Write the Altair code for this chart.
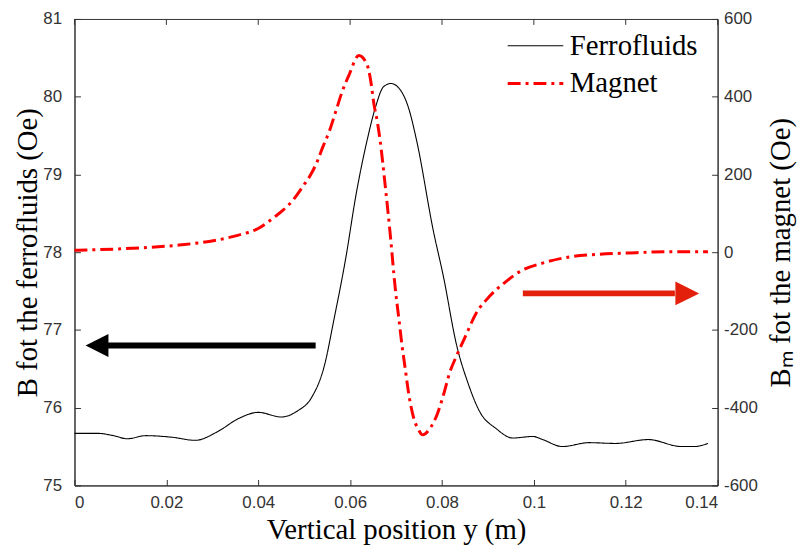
import altair as alt
import pandas as pd

# ---- data ----
ferro_x = [0, 0.005, 0.0085, 0.0115, 0.0155, 0.0212, 0.0263, 0.0311, 0.0357, 0.0400,
           0.045, 0.0486, 0.0515, 0.0544, 0.0565, 0.0591, 0.0612, 0.0637, 0.0655, 0.0673,
           0.0689, 0.0709, 0.0727, 0.0745, 0.0781, 0.0803, 0.0832, 0.0857, 0.0882, 0.0918,
           0.0954, 0.0998, 0.1019, 0.1062, 0.112, 0.1178, 0.1249, 0.1321, 0.135, 0.1379]
ferro_B = [75.67, 75.67, 75.64, 75.60, 75.64, 75.62, 75.58, 75.69, 75.86, 75.94,
           75.88, 75.96, 76.12, 76.54, 77.14, 77.94, 78.71, 79.44, 79.86, 80.13,
           80.17, 80.09, 79.86, 79.43, 78.28, 77.69, 76.80, 76.31, 75.95, 75.73,
           75.61, 75.63, 75.59, 75.50, 75.55, 75.54, 75.59, 75.50, 75.50, 75.54]

mag_x = [0, 0.0125, 0.0233, 0.0305, 0.0357, 0.04, 0.0436, 0.0454, 0.0475, 0.0501,
         0.0515, 0.0529, 0.054, 0.0555, 0.0569, 0.0583, 0.0598, 0.0619, 0.0637, 0.0645,
         0.0652, 0.0659, 0.0665, 0.0677, 0.0688, 0.0698, 0.0706, 0.0713, 0.072, 0.0727,
         0.0738, 0.0749, 0.0758, 0.0774, 0.0789, 0.0803, 0.0817, 0.0832, 0.085, 0.0875,
         0.0904, 0.094, 0.0969, 0.1019, 0.1084, 0.1134, 0.1207, 0.1293, 0.1379]
mag_B = [5, 10, 19, 30, 44, 61, 91, 108, 133, 176,
         201, 235, 269, 312, 363, 414, 457, 506, 482, 440,
         380, 337, 290, 165, 38, -90, -170, -240, -300, -360,
         -425, -457, -470, -453, -419, -368, -309, -266, -219, -156,
         -113, -75, -50, -28, -11, -6, -2, 1, 1]

series_names = ["Ferrofluids", "Magnet"]
series_colors = ["#000000", "#ff0000"]

x_ticks = [0, 0.02, 0.04, 0.06, 0.08, 0.1, 0.12, 0.14]
left_ticks = [75, 76, 77, 78, 79, 80, 81]
right_ticks = [-600, -400, -200, 0, 200, 400, 600]

# arrows (in x / left-axis units)
black_arrow_shaft = [0.0525, 0.0073]
black_arrow_head = 0.0049
black_arrow_level = 76.80
red_arrow_shaft = [0.0976, 0.1307]
red_arrow_head = 0.1334
red_arrow_level = 77.47

# ---- frames ----
ferro = pd.DataFrame({"pos": ferro_x, "B": ferro_B, "series": "Ferrofluids"})
magnet = pd.DataFrame({"pos": mag_x, "B": mag_B, "series": "Magnet"})
shaft_black_df = pd.DataFrame({"x0": [black_arrow_shaft[0]], "x1": [black_arrow_shaft[1]],
                               "y": [black_arrow_level]})
shaft_red_df = pd.DataFrame({"x0": [red_arrow_shaft[0]], "x1": [red_arrow_shaft[1]],
                             "y": [red_arrow_level]})
heads_left = pd.DataFrame({"x": [black_arrow_head], "y": [black_arrow_level]})
heads_right = pd.DataFrame({"x": [red_arrow_head], "y": [red_arrow_level]})
top_ticks_df = pd.DataFrame({"pos": x_ticks})

TICK_FONT = "Liberation Sans"
SERIF = "Liberation Serif"
tick_in = {"expr": "-6"}

xs = alt.Scale(domain=[0, 0.14], nice=False, zero=False)
ys_left = alt.Scale(domain=[75, 81], nice=False, zero=False)
ys_right = alt.Scale(domain=[-600, 600], nice=False, zero=False)

color_scale = alt.Scale(domain=series_names, range=series_colors)
dash_scale = alt.Scale(domain=series_names, range=[[1, 0], [13, 5, 3, 5]])
width_scale = alt.Scale(type="ordinal", domain=series_names, range=[1.1, 3])

legend = alt.Legend(
    title=None, orient="none", legendX=435, legendY=13, padding=0,
    symbolType="stroke", symbolSize=3136, clipHeight=28,
    labelFont=SERIF, labelFontSize=29,
    labelColor="black", labelOffset=5, rowPadding=9, labelLimit=300,
)

x_axis = alt.Axis(
    title="Vertical position y (m)", values=x_ticks, format="~g",
    labelFont=TICK_FONT, labelFontSize=17, labelColor="#333333", labelPadding=15,
    tickSize=tick_in, tickColor="#333333", domainColor="#333333", grid=False,
    titleFont=SERIF, titleFontSize=29, titleFontWeight="normal", titleColor="black",
    titleY=53, titleBaseline="alphabetic",
)
left_axis = alt.Axis(
    title="B fot the ferrofluids (Oe)", values=left_ticks, labelExpr="'' + datum.value",
    labelFont=TICK_FONT, labelFontSize=17, labelColor="#333333", labelPadding=19,
    tickSize=tick_in, tickColor="#333333", domainColor="#333333", grid=False,
    titleFont=SERIF, titleFontSize=29, titleFontWeight="normal", titleColor="black",
    titleX=-38, titleBaseline="alphabetic",
)
right_axis = alt.Axis(
    orient="right", title="B\u2098 fot the magnet (Oe)", values=right_ticks,
    labelExpr="'' + datum.value",
    labelFont=TICK_FONT, labelFontSize=17, labelColor="#333333", labelPadding=12,
    tickSize=tick_in, tickColor="#333333", domainColor="#333333", grid=False,
    titleFont=SERIF, titleFontSize=29, titleFontWeight="normal", titleColor="black",
    titleX=72, titleAngle=270, titleBaseline="alphabetic",
)

X = alt.X("pos:Q", scale=xs, axis=x_axis)

ferro_line = alt.Chart(ferro).mark_line(interpolate="monotone").encode(
    x=X,
    y=alt.Y("B:Q", scale=ys_left, axis=left_axis),
    color=alt.Color("series:N", scale=color_scale, legend=legend),
    strokeDash=alt.StrokeDash("series:N", scale=dash_scale, legend=legend),
    strokeWidth=alt.StrokeWidth("series:N", scale=width_scale, legend=legend),
)

top_ticks = alt.Chart(top_ticks_df).mark_rule(color="#333333", strokeWidth=1).encode(
    x=X, y=alt.value(0), y2=alt.value(6),
)

shaft_black = alt.Chart(shaft_black_df).mark_rule(color="#000000", strokeWidth=6).encode(
    x=alt.X("x0:Q", scale=xs, axis=x_axis),
    x2="x1:Q",
    y=alt.Y("y:Q", scale=ys_left, axis=left_axis),
)
shaft_red = alt.Chart(shaft_red_df).mark_rule(color="#e2200c", strokeWidth=6).encode(
    x=alt.X("x0:Q", scale=xs, axis=x_axis),
    x2="x1:Q",
    y=alt.Y("y:Q", scale=ys_left, axis=left_axis),
)
head_black = alt.Chart(heads_left).mark_point(
    shape="M-1,0L1,-1L1,1Z", filled=True, color="#000000", opacity=1, size=529,
    strokeWidth=0).encode(
    x=alt.X("x:Q", scale=xs, axis=x_axis),
    y=alt.Y("y:Q", scale=ys_left, axis=left_axis),
)
head_red = alt.Chart(heads_right).mark_point(
    shape="M1,0L-1,-1L-1,1Z", filled=True, color="#e2200c", opacity=1, size=576,
    strokeWidth=0).encode(
    x=alt.X("x:Q", scale=xs, axis=x_axis),
    y=alt.Y("y:Q", scale=ys_left, axis=left_axis),
)

mag_line = alt.Chart(magnet).mark_line(interpolate="monotone").encode(
    x=X,
    y=alt.Y("B:Q", scale=ys_right, axis=right_axis),
    color=alt.Color("series:N", scale=color_scale, legend=legend),
    strokeDash=alt.StrokeDash("series:N", scale=dash_scale, legend=legend),
    strokeWidth=alt.StrokeWidth("series:N", scale=width_scale, legend=legend),
)

left_layer = alt.layer(ferro_line, top_ticks, shaft_black, shaft_red, head_black, head_red)

chart = alt.layer(left_layer, mag_line).resolve_scale(y="independent").properties(
    width=648, height=470,
    autosize=alt.AutoSizeParams(type="none"),
    padding={"left": 67, "top": 9, "right": 80, "bottom": 60},
    background="white",
).configure_view(stroke="#333333", strokeWidth=1).configure_axis(
    titleFont=SERIF, labelFont=TICK_FONT
)

chart.save("out.html", embed_options={"renderer": "svg", "actions": False})
